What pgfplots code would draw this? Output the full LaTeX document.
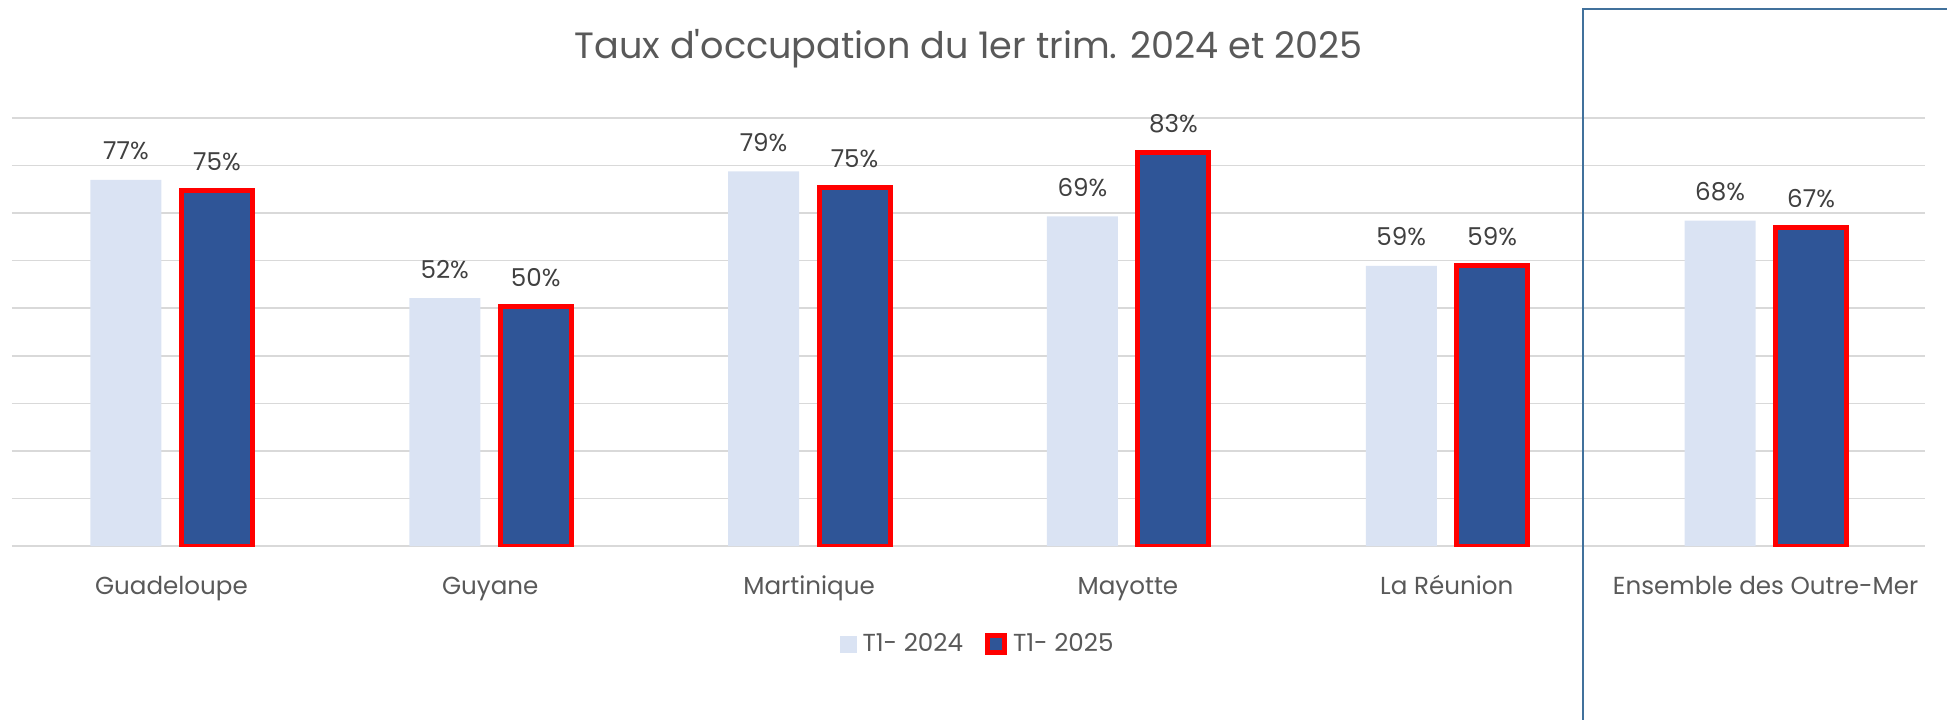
\documentclass[border=0pt]{standalone}
\usepackage{pgfplots}
\pgfplotsset{compat=1.18}
\usepackage{fontspec}
\setmainfont{Poppins}[Ligatures=TeXOff]
\definecolor{lightbar}{HTML}{DAE3F3}
\definecolor{darkbar}{HTML}{2F5597}
\definecolor{txt}{HTML}{595959}
\definecolor{lbl}{HTML}{404040}
\definecolor{gridc}{HTML}{D9D9D9}
\definecolor{frame}{HTML}{41719C}
\begin{document}
\begin{tikzpicture}
\path[use as bounding box] (0,0) rectangle (973.5pt,359.5pt);
\begin{axis}[
  at={(6pt,86.5pt)}, anchor=south west,
  scale only axis, width=956.5pt, height=214pt,
  xmin=-0.5, xmax=5.5, ymin=0, ymax=90,
  ybar=10pt, bar width=35.5pt,
  axis line style={draw=none},
  major tick length=0pt,
  ytick={0,10,...,90}, yticklabels={},
  ymajorgrids, grid style={gridc, line width=0.75pt},
  xtick={0,...,5},
  xticklabels={Guadeloupe,Guyane,Martinique,Mayotte,La Réunion,Ensemble des Outre-Mer},
  xticklabel style={font=\fontsize{12.3}{14}\selectfont, text=txt, anchor=base, yshift=-24pt, inner sep=0pt},
  /pgf/number format/assume math mode=true,
  point meta=y,
  nodes near coords={\pgfmathprintnumber[fixed,precision=0]{\pgfplotspointmeta}\%},
  nodes near coords style={font=\fontsize{12.3}{14}\selectfont, text=lbl, anchor=base, yshift=10pt, inner sep=0pt},
  title={Taux d'occupation du 1er trim. 2024 et 2025},
  title style={font=\fontsize{18.3}{22}\selectfont, text=txt, at={(0.5,1)}, anchor=base, yshift=23.5pt, inner sep=0pt},
  legend columns=2,
  legend style={at={(0.5,-0.229)}, anchor=center, xshift=5pt, draw=none, font=\fontsize{12.3}{14}\selectfont, text=txt,
    /tikz/every odd column/.append style={column sep=1pt},
    /tikz/every even column/.append style={column sep=9pt}},
  legend image code/.code={\path[#1] (0pt,-4.25pt) rectangle (8.5pt,4.25pt);},
]
\addplot[fill=lightbar, draw=none] coordinates {(0,77.0) (1,52.1) (2,78.8) (3,69.3) (4,58.9) (5,68.4)};
\addlegendentry{T1- 2024}
\addplot[fill=darkbar, draw=red, line width=2.5pt] coordinates {(0,74.8) (1,50.3) (2,75.3) (3,82.7) (4,58.9) (5,66.9)};
\addlegendentry{T1- 2025}
\end{axis}
\draw[frame, line width=1.2pt] (791.5pt,-1pt) -- (791.5pt,355pt) -- (975pt,355pt);
\end{tikzpicture}
\end{document}
